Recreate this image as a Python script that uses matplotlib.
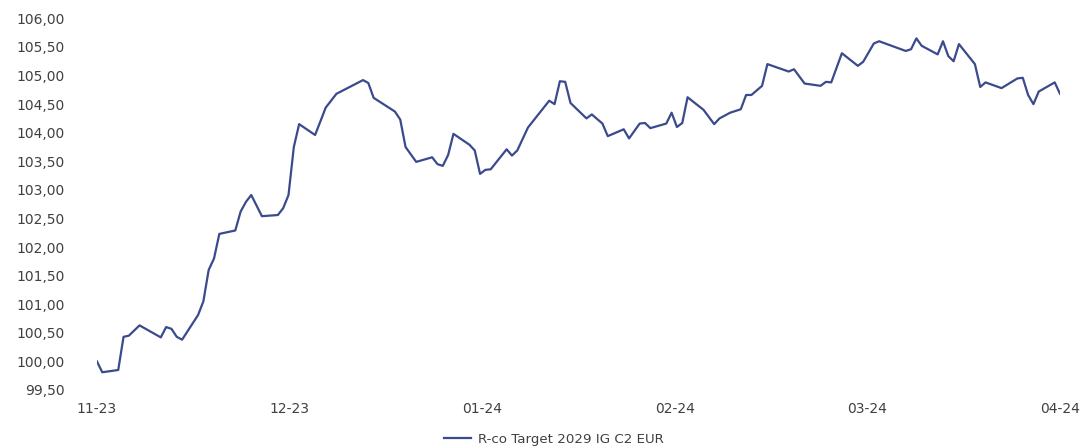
import numpy as np
import pandas as pd
import matplotlib
matplotlib.use("Agg")
from matplotlib import pyplot as plt
import matplotlib.dates as mdates

# fund price series
dates = [
    "2023-11-01", "2023-11-02", "2023-11-05", "2023-11-06", "2023-11-07", "2023-11-09",
    "2023-11-13", "2023-11-14", "2023-11-15", "2023-11-16", "2023-11-17", "2023-11-20",
    "2023-11-21", "2023-11-22", "2023-11-23", "2023-11-24", "2023-11-27", "2023-11-28",
    "2023-11-29", "2023-11-30", "2023-12-02", "2023-12-05", "2023-12-06", "2023-12-07",
    "2023-12-08", "2023-12-09", "2023-12-12", "2023-12-14", "2023-12-15", "2023-12-16",
    "2023-12-21", "2023-12-22", "2023-12-23", "2023-12-27", "2023-12-28", "2023-12-29",
    "2023-12-31", "2024-01-03", "2024-01-04", "2024-01-05", "2024-01-06", "2024-01-07",
    "2024-01-10", "2024-01-11", "2024-01-12", "2024-01-13", "2024-01-14", "2024-01-17",
    "2024-01-18", "2024-01-19", "2024-01-21", "2024-01-25", "2024-01-26", "2024-01-27",
    "2024-01-28", "2024-01-29", "2024-02-01", "2024-02-02", "2024-02-04", "2024-02-05",
    "2024-02-08", "2024-02-09", "2024-02-11", "2024-02-12", "2024-02-13", "2024-02-16",
    "2024-02-17", "2024-02-18", "2024-02-19", "2024-02-20", "2024-02-23", "2024-02-25",
    "2024-02-26", "2024-02-28", "2024-03-01", "2024-03-02", "2024-03-03", "2024-03-05",
    "2024-03-06", "2024-03-10", "2024-03-11", "2024-03-13", "2024-03-16", "2024-03-17",
    "2024-03-18", "2024-03-20", "2024-03-23", "2024-03-24", "2024-03-26", "2024-03-27",
    "2024-04-01", "2024-04-02", "2024-04-03", "2024-04-04", "2024-04-07", "2024-04-08",
    "2024-04-09", "2024-04-10", "2024-04-11", "2024-04-14", "2024-04-15", "2024-04-16",
    "2024-04-19", "2024-04-22", "2024-04-23", "2024-04-24", "2024-04-25", "2024-04-26",
    "2024-04-29", "2024-04-30",
]
prices = [
    100.00, 99.81, 99.85, 100.43, 100.45, 100.63,
    100.42, 100.60, 100.57, 100.43, 100.38, 100.81,
    101.05, 101.60, 101.80, 102.23, 102.29, 102.62,
    102.79, 102.91, 102.54, 102.56, 102.68, 102.91,
    103.75, 104.15, 103.96, 104.44, 104.56, 104.68,
    104.92, 104.87, 104.61, 104.37, 104.23, 103.75,
    103.49, 103.57, 103.45, 103.42, 103.61, 103.98,
    103.79, 103.69, 103.28, 103.35, 103.36, 103.71,
    103.60, 103.69, 104.09, 104.56, 104.50, 104.90,
    104.89, 104.52, 104.25, 104.32, 104.16, 103.94,
    104.06, 103.90, 104.16, 104.17, 104.08, 104.16,
    104.35, 104.10, 104.17, 104.62, 104.40, 104.15,
    104.25, 104.35, 104.41, 104.66, 104.66, 104.82,
    105.20, 105.07, 105.11, 104.86, 104.82, 104.89,
    104.88, 105.39, 105.17, 105.24, 105.56, 105.60,
    105.43, 105.46, 105.65, 105.52, 105.37, 105.60,
    105.34, 105.25, 105.55, 105.20, 104.80, 104.88,
    104.78, 104.95, 104.96, 104.66, 104.50, 104.72,
    104.88, 104.68,
]
xlabels = ["11-23", "12-23", "01-24", "02-24", "03-24", "04-24"]
yticks = [99.5, 100.0, 100.5, 101.0, 101.5, 102.0, 102.5, 103.0,
          103.5, 104.0, 104.5, 105.0, 105.5, 106.0]
series_name = "R-co Target 2029 IG C2 EUR"

x = pd.to_datetime(dates)
line_color = "#3a4a8c"
text_color = "#404040"

fig = plt.figure(figsize=(10.82, 4.48), dpi=100)
ax = fig.add_axes([0.0896, 0.1295, 0.8901, 0.8295])
ax.plot(x, prices, color=line_color, linewidth=1.6, label=series_name)

x0, x1 = mdates.date2num(x[0]), mdates.date2num(x[-1])
ax.set_xlim(x0, x1)
ax.set_xticks(np.linspace(x0, x1, len(xlabels)))
ax.set_xticklabels(xlabels)
ax.set_ylim(yticks[0], yticks[-1])
ax.set_yticks(yticks)
ax.set_yticklabels([f"{v:.2f}".replace(".", ",") for v in yticks])

for s in ax.spines.values():
    s.set_visible(False)
ax.tick_params(axis="both", length=0, labelsize=10, colors=text_color)
ax.tick_params(axis="y", pad=23)
ax.tick_params(axis="x", pad=9)

fig.legend(loc="center", bbox_to_anchor=(0.512, 0.02), frameon=False,
           fontsize=9.6, handlelength=2.0, handletextpad=0.5,
           labelcolor=text_color)

fig.savefig("out.png", dpi=100)
